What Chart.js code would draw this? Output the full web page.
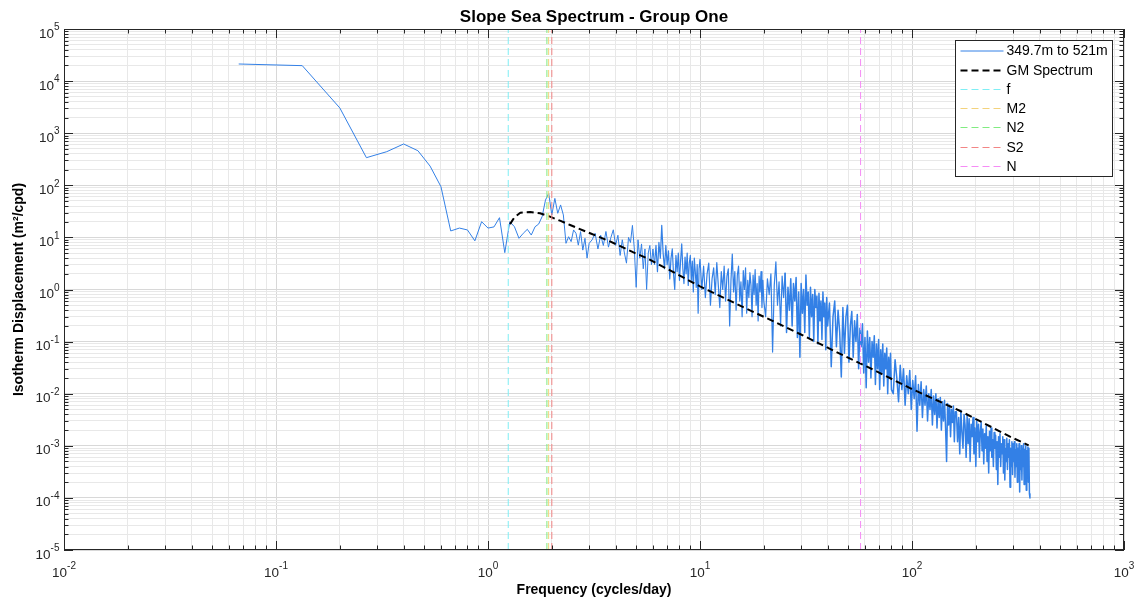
<!DOCTYPE html>
<html>
<head>
<meta charset="utf-8">
<script src="https://cdn.jsdelivr.net/npm/chart.js@4.4.1/dist/chart.umd.min.js"></script>
<style>
  html, body { margin: 0; padding: 0; background: #fff; }
</style>
</head>
<body>
<canvas id="myChart" width="1140" height="603"></canvas>
<script>
// spectrum, frequency in cycles/day, value in m^2/cpd
const freqA = [0.0667, 0.133, 0.2, 0.267, 0.333, 0.4, 0.467, 0.533, 0.6, 0.667, 0.733, 0.8, 0.867, 0.933, 1.0,
  1.067, 1.133, 1.2, 1.267, 1.333, 1.4, 1.467, 1.533, 1.6, 1.667, 1.733, 1.8, 1.867, 1.933, 2.0,
  2.067, 2.133, 2.2, 2.267, 2.333, 2.4, 2.467, 2.533, 2.6, 2.667, 2.733, 2.8, 2.867, 2.933, 3.0];
const specA = [21300, 19800, 3050, 339, 442, 621, 461, 234, 94, 13.3, 15.1, 13.9, 8.6, 20, 15.1,
  15.9, 23.9, 5.1, 20, 16, 9.6, 12, 14.3, 11.1, 16, 18, 25, 52, 70, 27,
  56, 29, 42, 27, 7.7, 10.3, 8.3, 13.9, 12, 7.1, 12.9, 5.7, 9.6, 4.0, 7.7];

const freqB = [3.1, 3.2, 3.3, 3.4, 3.5, 3.6, 3.7, 3.8, 3.9, 4.0, 4.1, 4.2, 4.3, 4.4, 4.5,
  4.6, 4.7, 4.8, 4.9, 5.0, 5.1, 5.2, 5.3, 5.4, 5.5, 5.6, 5.7, 5.8, 5.9, 6.0];
const specB = [9, 12, 6, 11, 7, 13, 6.5, 10, 14, 7, 11, 4.5, 9, 5, 3.2,
  10, 8, 17, 6, 1.1, 9, 4, 7.5, 2.5, 6, 1.0, 5, 7, 3, 6];

const freqC = [6.1, 6.2, 6.3, 6.4, 6.5, 6.6, 6.7, 6.8, 6.9, 7.0, 7.1, 7.2, 7.3, 7.4, 7.5, 7.6, 7.7, 7.8, 7.9, 8.0,
  8.1, 8.2, 8.3, 8.4, 8.5, 8.6, 8.7, 8.8, 8.9, 9.0, 9.1, 9.2, 9.3, 9.4, 9.5, 9.6, 9.7, 9.8, 9.9, 10.0];
const specC = [3, 7, 2.2, 8, 4, 17, 5, 2.5, 7, 3, 5.5, 1.6, 4, 6, 2, 1.0, 4.5, 2.2, 5, 1.5,
  3.5, 7.5, 2.5, 1.3, 4.2, 2, 5, 1.2, 3.2, 4.5, 1.5, 3.5, 0.9, 4, 2.2, 1.1, 3, 0.35, 2.5, 3.8];

const freqD = [10.2, 10.4, 10.6, 10.8, 11.0, 11.2, 11.4, 11.6, 11.8, 12.0, 12.2, 12.4, 12.6, 12.8, 13.0,
  13.2, 13.4, 13.6, 13.8, 14.0, 14.2, 14.4, 14.6, 14.8, 15.0, 15.2, 15.4, 15.6, 15.8, 16.0,
  16.2, 16.4, 16.6, 16.8, 17.0, 17.2, 17.4, 17.6, 17.8, 18.0, 18.2, 18.4, 18.6, 18.8, 19.0,
  19.2, 19.4, 19.6, 19.8, 20.0];
const specD = [1.0, 2.8, 0.7, 2, 3.2, 0.5, 1.6, 2.6, 0.8, 3.3, 1.2, 0.45, 2.2, 1.0, 2.8,
  0.6, 1.8, 2.5, 0.2, 1.5, 4.8, 0.9, 2.2, 0.4, 1.9, 2.8, 0.6, 1.4, 0.3, 2.3,
  1.0, 2.6, 0.35, 1.5, 0.7, 2.1, 1.2, 0.3, 1.9, 0.8, 2.4, 0.5, 1.3, 0.25, 1.8,
  0.9, 2.2, 0.45, 1.5, 0.6];

const freqE = [20.4, 20.8, 21.2, 21.6, 22.0, 22.4, 22.8, 23.2, 23.6, 24.0, 24.4, 24.8, 25.2, 25.6, 26.0,
  26.4, 26.8, 27.2, 27.6, 28.0, 28.4, 28.8, 29.2, 29.6, 30.0, 30.4, 30.8, 31.2, 31.6, 32.0,
  32.4, 32.8, 33.2, 33.6, 34.0, 34.4, 34.8, 35.2, 35.6, 36.0, 36.4, 36.8, 37.2, 37.6, 38.0,
  38.4, 38.8, 39.2, 39.6, 40.0];
const specE = [0.3, 1.6, 0.8, 2.0, 0.063, 1.2, 3.4, 0.5, 1.4, 0.2, 1.8, 0.7, 2.1, 0.15, 1.1,
  0.4, 1.6, 0.2, 1.3, 0.6, 1.7, 0.12, 0.9, 0.05, 1.3, 0.35, 1.0, 0.15, 1.9, 0.5,
  0.9, 0.12, 1.1, 0.3, 0.8, 0.1, 1.0, 0.45, 0.75, 0.09, 0.85, 0.25, 0.6, 0.11, 0.9,
  0.3, 0.55, 0.07, 0.7, 0.2];

const freqF = [40.8, 41.6, 42.4, 43.2, 44.0, 44.8, 45.6, 46.4, 47.2, 48.0, 48.8, 49.6, 50.4, 51.2, 52.0,
  52.8, 53.6, 54.4, 55.2, 56.0, 56.8, 57.6, 58.4, 59.2, 60.0, 60.8, 61.6, 62.4, 63.2, 64.0,
  64.8, 65.6, 66.4, 67.2, 68.0, 68.8, 69.6, 70.4, 71.2, 72.0, 72.8, 73.6, 74.4, 75.2, 76.0,
  76.8, 77.6, 78.4, 79.2, 80.0];
const specF = [0.55, 0.033, 0.3, 0.6, 0.08, 0.4, 0.15, 0.021, 0.45, 0.06, 0.3, 0.5, 0.04, 0.2, 0.38,
  0.05, 0.25, 0.1, 0.33, 0.03, 0.18, 0.08, 0.22, 0.025, 0.12, 0.013, 0.16, 0.04, 0.12, 0.02,
  0.1, 0.05, 0.13, 0.015, 0.09, 0.03, 0.11, 0.012, 0.07, 0.025, 0.09, 0.014, 0.06, 0.03, 0.075,
  0.01, 0.05, 0.02, 0.06, 0.012];

const freqG = [81.6, 83.2, 84.8, 86.4, 88.0, 89.6, 91.2, 92.8, 94.4, 96.0, 97.6, 99.2, 100.8, 102.4, 104.0,
  105.6, 107.2, 108.8, 110.4, 112.0, 113.6, 115.2, 116.8, 118.4, 120.0, 121.6, 123.2, 124.8, 126.4, 128.0,
  129.6, 131.2, 132.8, 134.4, 136.0, 137.6, 139.2, 140.8, 142.4, 144.0, 145.6, 147.2, 148.8, 150.4, 152.0,
  153.6, 155.2, 156.8, 158.4, 160.0];
const specG = [0.01, 0.045, 0.02, 0.007, 0.035, 0.012, 0.03, 0.006, 0.022, 0.01, 0.028, 0.005, 0.018, 0.008, 0.022,
  0.0019, 0.015, 0.006, 0.017, 0.0035, 0.012, 0.006, 0.014, 0.003, 0.01, 0.005, 0.012, 0.0025, 0.009, 0.004,
  0.01, 0.0022, 0.008, 0.0035, 0.0085, 0.002, 0.007, 0.003, 0.0075, 0.0022, 0.0005, 0.0065, 0.0025, 0.006, 0.0015,
  0.005, 0.0028, 0.0058, 0.0012, 0.0045];

const freqH = [162, 164, 166, 168, 170, 172, 174, 176, 178, 180,
  182, 184, 186, 188, 190, 192, 194, 196, 198, 200,
  202, 204, 206, 208, 210, 212, 214, 216, 218, 220,
  222, 224, 226, 228, 230, 232, 234, 236, 238, 240,
  242, 244, 246, 248, 250, 252, 254, 256, 258, 260,
  262, 264, 266, 268, 270, 272, 274, 276, 278, 280,
  282, 284, 286, 288, 290, 292, 294, 296, 298, 300,
  302, 304, 306, 308, 310, 312, 314, 316, 318, 320,
  322, 324, 326, 328, 330, 332, 334, 336, 338, 340,
  342, 344, 346, 348, 350, 352, 354, 356, 358, 360];
const specH = [0.0045, 0.0012, 0.0035, 0.0007, 0.0048, 0.0018, 0.0009, 0.004, 0.0025, 0.0006,
  0.0038, 0.0011, 0.0033, 0.0005, 0.0026, 0.0015, 0.0035, 0.0007, 0.0022, 0.0004,
  0.003, 0.0012, 0.0026, 0.0006, 0.0019, 0.0028, 0.0008, 0.0021, 0.00045, 0.0017,
  0.0009, 0.0024, 0.0005, 0.0015, 0.0003, 0.0019, 0.0008, 0.0022, 0.0006, 0.0013,
  0.0004, 0.0018, 0.0009, 0.0016, 0.00035, 0.0012, 0.00018, 0.0015, 0.0006, 0.0017,
  0.0004, 0.0011, 0.0007, 0.0015, 0.0003, 0.0013, 0.00022, 0.0009, 0.0005, 0.0014,
  0.00035, 0.0011, 0.0006, 0.0013, 0.00016, 0.0009, 0.0004, 0.0012, 0.00028, 0.0011,
  0.0005, 0.0012, 0.00025, 0.00085, 0.0004, 0.0011, 0.0002, 0.0009, 0.00045, 0.0011,
  0.00013, 0.0008, 0.00035, 0.001, 0.00022, 0.0009, 0.0004, 0.0011, 0.00018, 0.00085,
  0.0003, 0.001, 0.00014, 0.0008, 0.00035, 0.00095, 0.0002, 0.0009, 0.00012, 0.0001];

// Garrett-Munk reference curve
const gmFreq = [1.27, 1.33, 1.42, 1.58, 1.76, 1.96, 2.2, 2.44, 3.03, 3.76, 4.83, 5.6, 6.98, 10, 14.3, 20.7, 29.6, 42.4, 61.4, 97.9, 168, 290, 355];
const gmVal = [18, 24, 29.8, 30.8, 29, 25, 20.7, 17.3, 12, 8.4, 5.2, 4.0, 2.5, 1.15, 0.57, 0.28, 0.14, 0.068, 0.033, 0.0128, 0.0047, 0.0015, 0.00102];

// tidal / inertial / buoyancy frequencies (cpd)
const refNames = ['f', 'M2', 'N2', 'S2', 'N'];
const refFreqs = [1.246, 1.9323, 1.896, 2.0, 57.2];
const refColors = ['#7feef4', '#f3d27c', '#80ec80', '#f28585', '#f58cf5'];

const xMin = 0.01, xMax = 1000, yMin = 1e-5, yMax = 1e5;
const fam = '"Liberation Sans", Arial, Helvetica, sans-serif';
Chart.defaults.font.family = fam;

const specFreq = [].concat(freqA, freqB, freqC, freqD, freqE, freqF, freqG, freqH);
const specVal = [].concat(specA, specB, specC, specD, specE, specF, specG, specH);

const isDecade = v => { const e = Math.log10(v); return Math.abs(e - Math.round(e)) < 1e-6; };

// log scale also makes 1.5x ticks, keep only 1..9 x 10^k
function keepWholeTicks(scale) {
  scale.ticks = scale.ticks.filter(t => {
    const m = t.value / Math.pow(10, Math.floor(Math.log10(t.value) + 1e-9));
    return Math.abs(m - Math.round(m)) < 1e-6;
  });
}

const gridColor = c => (c.tick && isDecade(c.tick.value)) ? '#d8d8d8' : '#e8e8e8';

// dense high-frequency part: MATLAB's sub-pixel sampling reads as a solid band
const bandWidth = s => s.p0.parsed.x > 25 ? 1.5 : (s.p0.parsed.x > 6 ? 1.2 : 1);

const datasets = [
  { label: '349.7m to 521m', data: specFreq.map((f, i) => ({ x: f, y: specVal[i] })),
    borderColor: '#3380e6', borderWidth: 1, order: 3, segment: { borderWidth: bandWidth } },
  { label: 'GM Spectrum', data: gmFreq.map((f, i) => ({ x: f, y: gmVal[i] })),
    borderColor: '#000', borderWidth: 2, borderDash: [7, 4], order: 2 }
].concat(refNames.map((n, i) => ({
  label: n, data: [{ x: refFreqs[i], y: yMin }, { x: refFreqs[i], y: yMax }],
  borderColor: refColors[i], borderWidth: 1, borderDash: [7, 4], order: 1
})));

// box, inward ticks, 10^n labels, title and legend
const decor = {
  id: 'decor',
  afterDraw(chart) {
    const { ctx, chartArea: a, scales: { x, y } } = chart;
    ctx.save();
    ctx.setLineDash([]);
    ctx.strokeStyle = '#262626';
    ctx.lineWidth = 1;
    ctx.beginPath();
    x.ticks.forEach(t => {
      const px = Math.round(x.getPixelForValue(t.value)) + 0.5;
      const L = isDecade(t.value) ? 9 : 4.5;
      ctx.moveTo(px, a.bottom); ctx.lineTo(px, a.bottom - L);
      ctx.moveTo(px, a.top); ctx.lineTo(px, a.top + L);
    });
    y.ticks.forEach(t => {
      const py = Math.round(y.getPixelForValue(t.value)) + 0.5;
      const L = isDecade(t.value) ? 9 : 4.5;
      ctx.moveTo(a.left, py); ctx.lineTo(a.left + L, py);
      ctx.moveTo(a.right, py); ctx.lineTo(a.right - L, py);
    });
    ctx.stroke();
    ctx.strokeRect(a.left + 0.5, a.top + 0.5, a.right - a.left - 1, a.bottom - a.top - 1);

    // tick labels
    const base = '13.5px ' + fam, sup = '10px ' + fam;
    ctx.fillStyle = '#262626';
    ctx.textAlign = 'left';
    ctx.textBaseline = 'alphabetic';
    x.ticks.filter(t => isDecade(t.value)).forEach(t => {
      const e = String(Math.round(Math.log10(t.value)));
      const px = x.getPixelForValue(t.value);
      ctx.font = base; const wb = ctx.measureText('10').width;
      ctx.font = sup; const we = ctx.measureText(e).width;
      const x0 = px - (wb + we) / 2;
      ctx.font = base; ctx.fillText('10', x0, a.bottom + 27);
      ctx.font = sup; ctx.fillText(e, x0 + wb, a.bottom + 19);
    });
    y.ticks.filter(t => isDecade(t.value)).forEach(t => {
      const e = String(Math.round(Math.log10(t.value)));
      const py = y.getPixelForValue(t.value);
      ctx.font = base; const wb = ctx.measureText('10').width;
      ctx.font = sup; const we = ctx.measureText(e).width;
      const x0 = a.left - 4.5 - (wb + we);
      ctx.font = base; ctx.fillText('10', x0, py + 8.5);
      ctx.font = sup; ctx.fillText(e, x0 + wb, py + 1.2);
    });

    // title
    ctx.fillStyle = '#000';
    ctx.textAlign = 'center';
    ctx.font = 'bold 17px ' + fam;
    ctx.fillText('Slope Sea Spectrum - Group One', (a.left + a.right) / 2, 22);

    // legend
    const lx = a.right - 168.5, ly = a.top + 11.5, lw = 157, lh = 136;
    ctx.fillStyle = '#fff';
    ctx.fillRect(lx, ly, lw, lh);
    ctx.strokeStyle = '#262626';
    ctx.lineWidth = 1;
    ctx.strokeRect(lx, ly, lw, lh);
    ctx.textAlign = 'left';
    ctx.textBaseline = 'middle';
    ctx.font = '14px ' + fam;
    chart.data.datasets.forEach((ds, i) => {
      const yy = Math.round(ly + 10 + i * 19.2) + (i === 0 ? 0 : 0.5);
      ctx.strokeStyle = ds.borderColor;
      ctx.lineWidth = ds.borderWidth;
      ctx.setLineDash(ds.borderDash || []);
      ctx.beginPath();
      ctx.moveTo(lx + 5, yy);
      ctx.lineTo(lx + 48, yy);
      ctx.stroke();
      ctx.setLineDash([]);
      ctx.fillStyle = '#000';
      ctx.fillText(ds.label, lx + 51, yy + 0.5);
    });
    ctx.restore();
  }
};

new Chart(document.getElementById('myChart').getContext('2d'), {
  type: 'line',
  data: { datasets },
  plugins: [decor],
  options: {
    responsive: false,
    animation: false,
    events: [],
    layout: { padding: { top: 29, right: 16, bottom: 0, left: 0 } },
    plugins: { legend: { display: false }, tooltip: { enabled: false }, title: { display: false } },
    elements: {
      point: { radius: 0 },
      line: { tension: 0, fill: false, borderJoinStyle: 'round', borderCapStyle: 'butt' }
    },
    scales: {
      x: {
        type: 'logarithmic', min: xMin, max: xMax,
        afterBuildTicks: keepWholeTicks,
        afterFit: s => { s.height = 53; },
        ticks: { display: false },
        grid: { color: gridColor, drawTicks: false },
        border: { display: false },
        title: { display: true, text: 'Frequency (cycles/day)', color: '#000',
          font: { size: 14, weight: 'bold' }, padding: { top: 0, bottom: 4 } }
      },
      y: {
        type: 'logarithmic', min: yMin, max: yMax,
        afterBuildTicks: keepWholeTicks,
        afterFit: s => { s.width = 64; },
        ticks: { display: false },
        grid: { color: gridColor, drawTicks: false },
        border: { display: false },
        title: { display: true, text: 'Isotherm Displacement (m²/cpd)', color: '#000',
          font: { size: 14, weight: 'bold' }, padding: { top: 11, bottom: 0 } }
      }
    }
  }
});
</script>
</body>
</html>
